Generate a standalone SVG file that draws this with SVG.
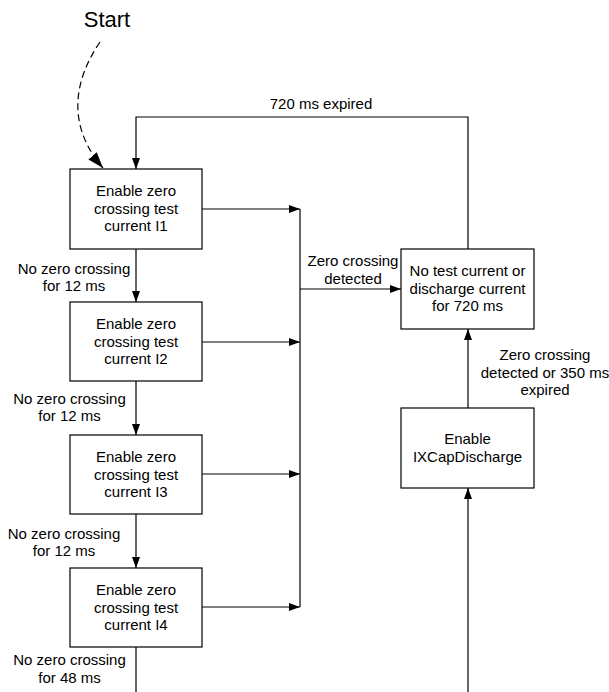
<svg xmlns="http://www.w3.org/2000/svg" width="609" height="692" viewBox="0 0 609 692">
<style>
text{font-family:"Liberation Sans",Arial,sans-serif;font-size:15px;fill:#000;text-anchor:middle}
.box{fill:#fff;stroke:#000;stroke-width:1.2}
.ln{fill:none;stroke:#000;stroke-width:1.2}
.dash{fill:none;stroke:#000;stroke-width:1.2;stroke-dasharray:7,4}
</style>
<defs>
<marker id="ah" markerUnits="userSpaceOnUse" markerWidth="12" markerHeight="9" refX="11" refY="4" orient="auto"><path d="M0,0 L11,4 L0,8 z" fill="#000"/></marker>
<marker id="ahb" markerUnits="userSpaceOnUse" markerWidth="17" markerHeight="12" refX="16" refY="5.5" orient="auto"><path d="M0,0 L16,5.5 L0,11 z" fill="#000"/></marker>
</defs>
<text x="107" y="27" style="font-size:22px">Start</text>
<g id="connectors">
<path class="dash" d="M100,42 C74,80 66,125 103,168" marker-end="url(#ahb)"/>
<path class="ln" d="M468,249 V117 H136 V169" marker-end="url(#ah)"/>
<path class="ln" d="M202,209 H300" marker-end="url(#ah)"/>
<path class="ln" d="M202,342 H300" marker-end="url(#ah)"/>
<path class="ln" d="M202,474 H300" marker-end="url(#ah)"/>
<path class="ln" d="M202,607 H300" marker-end="url(#ah)"/>
<path class="ln" d="M300,209 V607"/>
<path class="ln" d="M300,289 H401" marker-end="url(#ah)"/>
<path class="ln" d="M136,249 V302" marker-end="url(#ah)"/>
<path class="ln" d="M136,381 V435" marker-end="url(#ah)"/>
<path class="ln" d="M136,514 V568" marker-end="url(#ah)"/>
<path class="ln" d="M136,647 V692"/>
<path class="ln" d="M468,408 V329" marker-end="url(#ah)"/>
<path class="ln" d="M468,692 V488" marker-end="url(#ah)"/>
<text x="321" y="109">720 ms expired</text>
<text x="353" y="266">Zero crossing</text>
<text x="353" y="283.5">detected</text>
<text x="74" y="274">No zero crossing</text>
<text x="74" y="291">for 12 ms</text>
<text x="69.5" y="403.5">No zero crossing</text>
<text x="69.5" y="421">for 12 ms</text>
<text x="64" y="538.5">No zero crossing</text>
<text x="64" y="555.5">for 12 ms</text>
<text x="69.5" y="665">No zero crossing</text>
<text x="69.5" y="682.5">for 48 ms</text>
<text x="545" y="360">Zero crossing</text>
<text x="545" y="377.5">detected or 350 ms</text>
<text x="545" y="395">expired</text>
</g>
<g id="n1"><rect class="box" x="70" y="169" width="132" height="80"/>
<text x="136" y="196">Enable zero</text><text x="136" y="213.7">crossing test</text><text x="136" y="231.4">current I1</text></g>
<g id="n2"><rect class="box" x="70" y="302" width="132" height="79"/>
<text x="136" y="328.8">Enable zero</text><text x="136" y="346.5">crossing test</text><text x="136" y="364.2">current I2</text></g>
<g id="n3"><rect class="box" x="70" y="435" width="132" height="79"/>
<text x="136" y="461.8">Enable zero</text><text x="136" y="479.5">crossing test</text><text x="136" y="497.2">current I3</text></g>
<g id="n4"><rect class="box" x="70" y="568" width="132" height="79"/>
<text x="136" y="594.8">Enable zero</text><text x="136" y="612.5">crossing test</text><text x="136" y="630.2">current I4</text></g>
<g id="n5"><rect class="box" x="401" y="249" width="133" height="80"/>
<text x="467.5" y="275.8">No test current or</text><text x="467.5" y="293.5">discharge current</text><text x="467.5" y="311.2">for 720 ms</text></g>
<g id="n6"><rect class="box" x="401" y="408" width="133" height="80"/>
<text x="467.5" y="443.5">Enable</text><text x="467.5" y="461.5">IXCapDischarge</text></g>
</svg>
